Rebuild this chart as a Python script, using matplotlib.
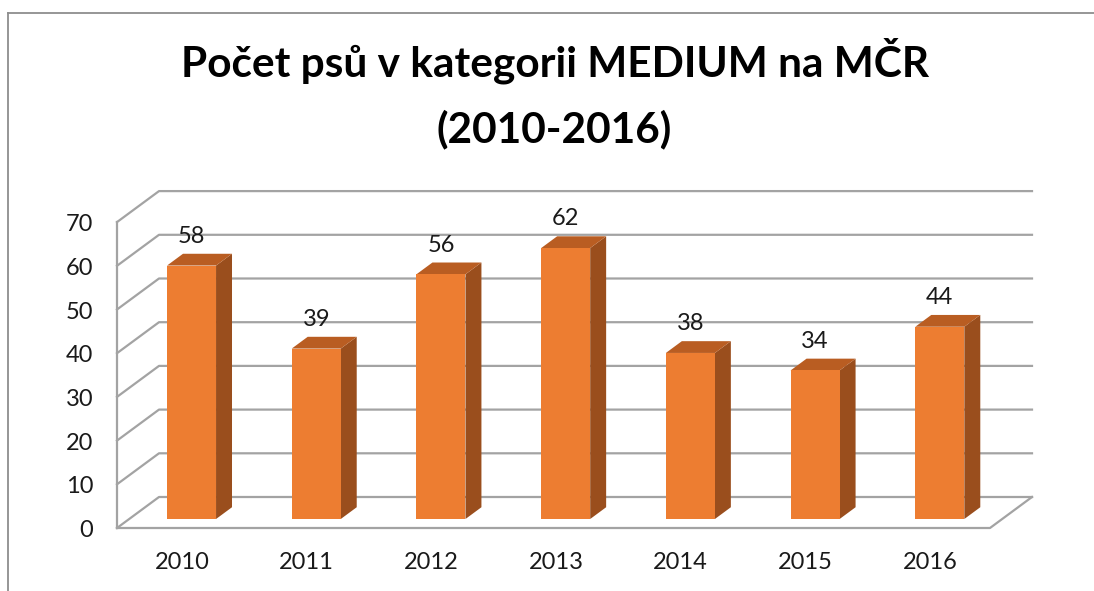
import matplotlib
matplotlib.use("Agg")
import matplotlib.pyplot as plt
from matplotlib.patches import Polygon
from matplotlib.lines import Line2D

years = ["2010", "2011", "2012", "2013", "2014", "2015", "2016"]
counts = [58, 39, 56, 62, 38, 34, 44]
yticks = [0, 10, 20, 30, 40, 50, 60, 70]
title_1 = "Počet psů v kategorii MEDIUM na MČR"
title_2 = "(2010-2016)"

plt.rcParams["font.family"] = ["Lato", "DejaVu Sans"]

W, H = 1094, 591
fig = plt.figure(figsize=(W / 100, H / 100), dpi=100)
ax = fig.add_axes([0, 0, 1, 1])
ax.axis("off")

# pixel layout of the fake 3D box (front plane)
left_px, right_px, zero_px = 117, 990, 528
n = len(years)
cat_px = (right_px - left_px) / n
val_px = 4.37
ax.set_xlim(-0.5 - left_px / cat_px, -0.5 + (W - left_px) / cat_px)
ax.set_ylim(-(H - zero_px) / val_px, zero_px / val_px)

# depth offset of back wall, in data units
ddx = 42 / cat_px
ddy = 31 / val_px
grid_c = "#A3A3A3"
x0, x1 = -0.5, n - 0.5
ymax = yticks[-1]
txt_c = "#1a1a1a"

# floor
ax.add_patch(Polygon([(x0, 0), (x1, 0), (x1 + ddx, ddy), (x0 + ddx, ddy)],
                     closed=True, facecolor="white", edgecolor="none", zorder=1))
ax.plot([x0, x1, x1 + ddx], [0, 0, ddy], color=grid_c, lw=1.6, zorder=2)
# left wall front edge
ax.plot([x0, x0], [0, ymax], color=grid_c, lw=1.6, zorder=2)
# gridlines: slanted on side wall + horizontal on back wall
for t in yticks:
    ax.plot([x0, x0 + ddx, x1 + ddx], [t, t + ddy, t + ddy], color=grid_c, lw=1.6, zorder=2)
    ax.text(-0.69, t - 0.6, str(t), ha="right", va="center", fontsize=17, color=txt_c)

# bars
bw = 0.393
fd, bd = 0.29, 0.67
front_c, side_c, top_c = "#ED7D31", "#9A4E1D", "#B95D22"
for i, (yr, v) in enumerate(zip(years, counts)):
    xl, xr = i - bw / 2, i + bw / 2
    fx, fy = fd * ddx, fd * ddy
    bx, by = bd * ddx, bd * ddy
    ax.add_patch(Polygon([(xr + fx, fy), (xr + bx, by), (xr + bx, v + by), (xr + fx, v + fy)],
                         closed=True, facecolor=side_c, edgecolor="none", zorder=3))
    ax.add_patch(Polygon([(xl + fx, v + fy), (xr + fx, v + fy), (xr + bx, v + by), (xl + bx, v + by)],
                         closed=True, facecolor=top_c, edgecolor="none", zorder=3))
    ax.add_patch(Polygon([(xl + fx, fy), (xr + fx, fy), (xr + fx, v + fy), (xl + fx, v + fy)],
                         closed=True, facecolor=front_c, edgecolor="none", zorder=4))
    ax.text(i + fx, v + by + 1.6, str(v), ha="center", va="bottom", fontsize=17, color=txt_c, zorder=5)
    ax.text(i + 0.02, -7.8, yr, ha="center", va="center", fontsize=17, color=txt_c)

# title
fig.text(0.507, 1 - 77 / H, title_1, ha="center", va="baseline", fontsize=30.5,
         fontweight="bold", color="black")
fig.text(0.507, 1 - 142 / H, title_2, ha="center", va="baseline", fontsize=30.5,
         fontweight="bold", color="black")

# chart border (left and top visible)
border_c = "#8E8E8E"
fig.add_artist(Line2D([8 / W, 8 / W], [0, 1 - 13 / H], color=border_c, lw=1.3))
fig.add_artist(Line2D([8 / W, 1], [1 - 13 / H, 1 - 13 / H], color=border_c, lw=1.3))

fig.savefig("out.png", dpi=100, facecolor="white")
